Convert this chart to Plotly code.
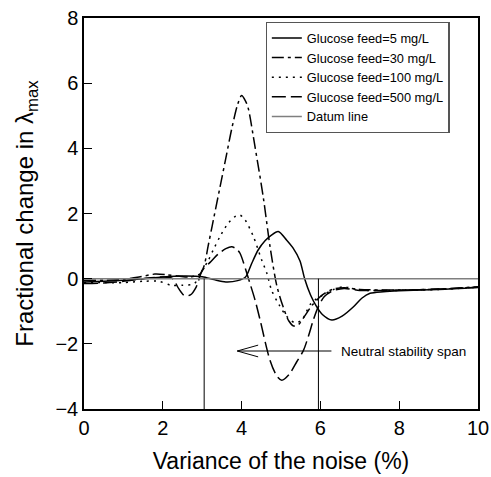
import plotly.graph_objects as go

# ---- data ----
x5 = [0, 0.5, 1, 1.5, 2, 2.5, 3, 3.3, 3.6, 3.9, 4.1, 4.25, 4.42, 4.6, 4.75, 4.93, 5.14, 5.3, 5.48, 5.6,
      5.75, 5.9, 6.05, 6.29, 6.55, 6.84, 7.05, 7.26, 7.6, 8, 9, 10]
y5 = [-0.1, -0.08, -0.05, 0.0, 0.05, 0.08, 0.06, -0.03, -0.1, -0.06, 0.05, 0.45, 0.88, 1.17, 1.33, 1.45, 1.19, 0.95,
      0.55, 0.0, -0.5, -0.85, -1.1, -1.27, -1.15, -0.86, -0.6, -0.45, -0.4, -0.37, -0.33, -0.27]

x30 = [0, 0.5, 1, 1.4, 1.8, 2.1, 2.4, 2.7, 2.95, 3.05, 3.15, 3.25, 3.45, 3.6, 3.75, 3.9, 4.0, 4.1, 4.17, 4.34,
       4.55, 4.72, 4.89, 5.05, 5.2, 5.32, 5.45, 5.6, 5.8, 6.05, 6.3, 6.6, 7, 8, 9, 10]
y30 = [-0.05, -0.05, -0.02, 0.05, 0.14, 0.12, 0.08, 0.05, 0.15, 0.4, 1.0, 1.6, 2.8, 3.7, 4.6, 5.35, 5.62, 5.45,
       5.22, 4.05, 2.5, 1.0, -0.2, -0.85, -1.3, -1.45, -1.4, -1.15, -0.8, -0.5, -0.33, -0.28, -0.33, -0.35, -0.32, -0.25]

x100 = [0, 0.5, 1, 1.5, 1.9, 2.2, 2.5, 2.8, 3.0, 3.15, 3.28, 3.45, 3.66, 3.85, 3.96, 4.09, 4.3, 4.51, 4.64, 4.76,
        4.95, 5.14, 5.35, 5.53, 5.65, 5.75, 5.9, 6.07, 6.3, 6.58, 7, 8, 9, 10]
y100 = [-0.12, -0.12, -0.12, -0.08, -0.08, -0.2, -0.2, -0.15, 0.25, 0.55, 0.88, 1.29, 1.7, 1.92, 1.95, 1.8, 1.29,
        0.57, 0.17, -0.35, -0.8, -1.15, -1.35, -1.27, -1.0, -0.78, -0.62, -0.5, -0.35, -0.25, -0.35, -0.36, -0.33, -0.26]

x500 = [0, 0.5, 1, 1.5, 2.0, 2.25, 2.4, 2.55, 2.7, 2.85, 3.0, 3.2, 3.4, 3.6, 3.75, 3.88, 3.96, 4.2, 4.34, 4.47,
        4.72, 4.9, 5.02, 5.2, 5.4, 5.57, 5.7, 5.82, 5.95, 6.1, 6.3, 6.6, 7, 8, 9, 10]
y500 = [-0.15, -0.13, -0.08, 0.0, 0.05, 0.0, -0.3, -0.52, -0.5, -0.25, 0.25, 0.5, 0.75, 0.92, 0.98, 0.9, 0.78,
        -0.1, -0.65, -1.27, -2.5, -3.0, -3.12, -2.95, -2.55, -2.2, -1.75, -1.27, -0.85, -0.55, -0.38, -0.3, -0.36,
        -0.35, -0.32, -0.26]

datum_x = [0, 10]
datum_y = [0, 0]

span_x = [3.05, 5.95]          # neutral stability span limits
span_y = [0, -4]
arrow_from_x = 6.28
arrow_to_x = 3.89
arrow_y = -2.22
arrow_head_dx = 0.53
arrow_head_dy = 0.18
span_label = "Neutral stability span"
span_label_x = 6.48

FONT = "Liberation Sans, Arial, sans-serif"

fig = go.Figure()

def add(x, y, name, dash, color="black", width=1.5, shape="spline"):
    fig.add_trace(go.Scatter(x=x, y=y, mode="lines", name=name,
                             line=dict(color=color, width=width, dash=dash, shape=shape, smoothing=0.8)))

add(x5, y5, "Glucose feed=5 mg/L", "solid")
add(x30, y30, "Glucose feed=30 mg/L", "12px,4px,3px,4px")
add(x100, y100, "Glucose feed=100 mg/L", "2px,5px")
add(x500, y500, "Glucose feed=500 mg/L", "14px,5px")
add(datum_x, datum_y, "Datum line", "solid", color="#7f7f7f", width=1.5, shape="linear")

# vertical span lines
for sx in span_x:
    fig.add_shape(type="line", x0=sx, x1=sx, y0=span_y[0], y1=span_y[1], xref="x", yref="y",
                  line=dict(color="black", width=1))
# arrow
fig.add_shape(type="line", x0=arrow_from_x, x1=arrow_to_x, y0=arrow_y, y1=arrow_y,
              line=dict(color="black", width=1))
for s in (1, -1):
    fig.add_shape(type="line", x0=arrow_to_x, x1=arrow_to_x + arrow_head_dx,
                  y0=arrow_y, y1=arrow_y + s * arrow_head_dy, line=dict(color="black", width=1))
fig.add_annotation(x=span_label_x, y=arrow_y, text=span_label, showarrow=False,
                   xanchor="left", yanchor="middle", font=dict(size=13.5, color="black", family=FONT))

fig.update_layout(
    width=491, height=477,
    margin=dict(l=84, r=13, t=18, b=68, autoexpand=False),
    paper_bgcolor="white", plot_bgcolor="white",
    font=dict(family=FONT, color="black"),
    showlegend=True,
    legend=dict(x=0.461, y=0.99, xanchor="left", yanchor="top",
                bordercolor="#555555", borderwidth=1.2, bgcolor="white",
                font=dict(size=12.8, family=FONT), itemwidth=30, tracegroupgap=0),
)
fig.update_xaxes(range=[0, 10], dtick=2, tick0=0, showline=True, mirror=True, linecolor="black", linewidth=1.5,
                 ticks="inside", ticklen=8, tickcolor="black", showgrid=False, zeroline=False, automargin=False,
                 tickfont=dict(size=20), title=dict(text="Variance of the noise (%)", font=dict(size=23)))
fig.update_yaxes(range=[-4, 8], dtick=2, tick0=0, showline=True, mirror=True, linecolor="black", linewidth=1.5,
                 ticks="inside", ticklen=8, tickcolor="black", showgrid=False, zeroline=False, automargin=False,
                 tickfont=dict(size=20),
                 title=dict(text="Fractional change in λ<sub>max</sub>", font=dict(size=24)))

fig.write_html("out.html")
